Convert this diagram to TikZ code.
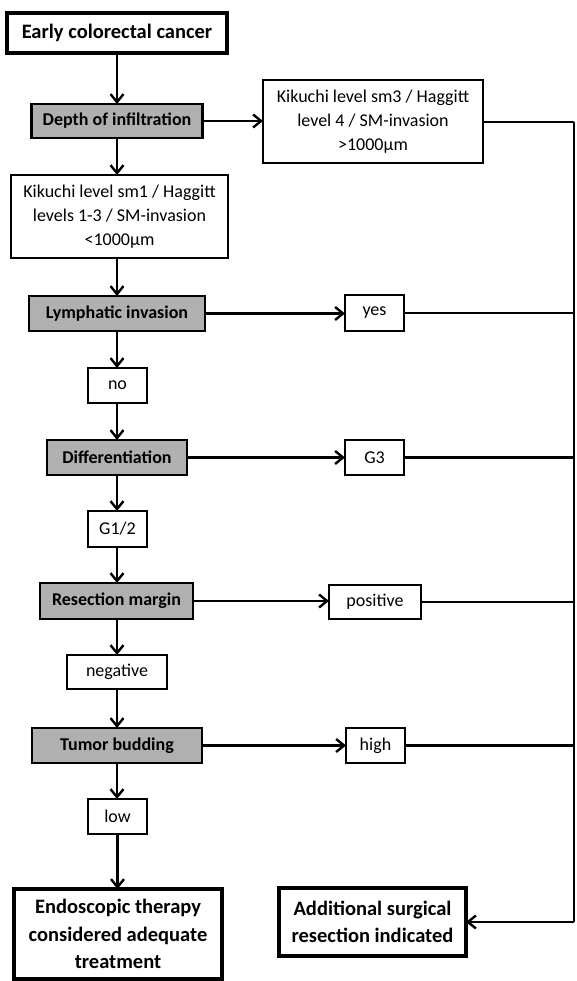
\documentclass[tikz,border=0pt]{standalone}
\usepackage{fontspec}
\setmainfont{Carlito}
\usetikzlibrary{arrows.meta}
\definecolor{boxgray}{RGB}{176,176,176}
\begin{document}
\begin{tikzpicture}[x=1pt,y=-1pt,
  every node/.style={font=\fontsize{18}{24}\selectfont, align=center, inner sep=0pt, outer sep=0pt},
  wbox/.style={draw=black, line width=2.6pt, fill=white},
  gbox/.style={draw=black, line width=2.6pt, fill=boxgray, font=\fontsize{18}{24}\selectfont\bfseries},
  tbox/.style={draw=black, line width=3.4pt, fill=white, font=\fontsize{20.5}{27.5}\selectfont\bfseries},
  arr/.style={line width=2.4pt, -{Straight Barb[length=8pt,width=13pt,line width=2.4pt]}},
  ln/.style={line width=2.4pt}]
\useasboundingbox (0,0) rectangle (576,981);
\node[tbox, minimum width=220, minimum height=40] (early) at (117,33) {Early colorectal cancer};
\node[gbox, minimum width=171, minimum height=34] (depth) at (117,121) {Depth of infiltration};
\node[wbox, minimum width=220, minimum height=83] (sm3) at (373,121.5) {Kikuchi level sm3 / Haggitt\\level 4 / SM-invasion\\>1000µm};
\node[wbox, minimum width=217, minimum height=83] (sm1) at (119.5,216.5) {Kikuchi level sm1 / Haggitt\\levels 1-3 / SM-invasion\\<1000µm};
\node[gbox, minimum width=176, minimum height=35] (lymph) at (117,313.5) {Lymphatic invasion};
\node[wbox, minimum width=59, minimum height=36] (yes) at (374.5,313) {yes};
\node[wbox, minimum width=59, minimum height=35] (no) at (117.5,385.5) {no};
\node[gbox, minimum width=140, minimum height=35] (diff) at (117,457.5) {Differentiation};
\node[wbox, minimum width=59, minimum height=35] (g3) at (374.5,457.5) {G3};
\node[wbox, minimum width=59, minimum height=36] (g12) at (117.5,529) {G1/2};
\node[gbox, minimum width=153, minimum height=36] (resec) at (116.5,601) {Resection margin};
\node[wbox, minimum width=92, minimum height=34] (pos) at (375,602) {positive};
\node[wbox, minimum width=100, minimum height=34] (neg) at (117,672) {negative};
\node[gbox, minimum width=170, minimum height=35] (tumor) at (117,745.5) {Tumor budding};
\node[wbox, minimum width=59, minimum height=35] (high) at (375.5,745.5) {high};
\node[wbox, minimum width=59, minimum height=35] (low) at (117.5,816.5) {low};
\node[tbox, minimum width=208, minimum height=90] (endo) at (118,934) {Endoscopic therapy\\considered adequate\\treatment};
\node[tbox, minimum width=187, minimum height=68] (add) at (372.5,922) {Additional surgical\\resection indicated};
\coordinate (railtop) at (574,122);
\coordinate (railbot) at (574,922);
% vertical main column
\draw[arr] (early.south) -- (early.south |- depth.north);
\draw[arr] (depth.south) -- (depth.south |- sm1.north);
\draw[arr] (sm1.south -| depth.south) -- (depth.south |- lymph.north);
\draw[arr] (lymph.south) -- (lymph.south |- no.north);
\draw[arr] (no.south -| lymph.south) -- (lymph.south |- diff.north);
\draw[arr] (diff.south) -- (diff.south |- g12.north);
\draw[arr] (g12.south -| diff.south) -- (diff.south |- resec.north);
\draw[arr] (resec.south -| diff.south) -- (diff.south |- neg.north);
\draw[arr] (neg.south) -- (neg.south |- tumor.north);
\draw[arr] (tumor.south) -- (tumor.south |- low.north);
\draw[arr] (low.south) -- (low.south |- endo.north);
% horizontal branches
\draw[arr] (depth.east) -- (depth.east -| sm3.west);
\draw[arr] (lymph.east) -- (lymph.east -| yes.west);
\draw[arr] (diff.east) -- (diff.east -| g3.west);
\draw[arr] (resec.east) -- (resec.east -| pos.west);
\draw[arr] (tumor.east) -- (tumor.east -| high.west);
% to rail
\draw[ln] (sm3.east |- railtop) -- (railtop);
\draw[ln] (yes.east) -- (yes.east -| railtop);
\draw[ln] (g3.east) -- (g3.east -| railtop);
\draw[ln] (pos.east) -- (pos.east -| railtop);
\draw[ln] (high.east) -- (high.east -| railtop);
\draw[ln] (railtop) -- (railbot);
\draw[arr] (railbot) -- (add.east);
\end{tikzpicture}
\end{document}
